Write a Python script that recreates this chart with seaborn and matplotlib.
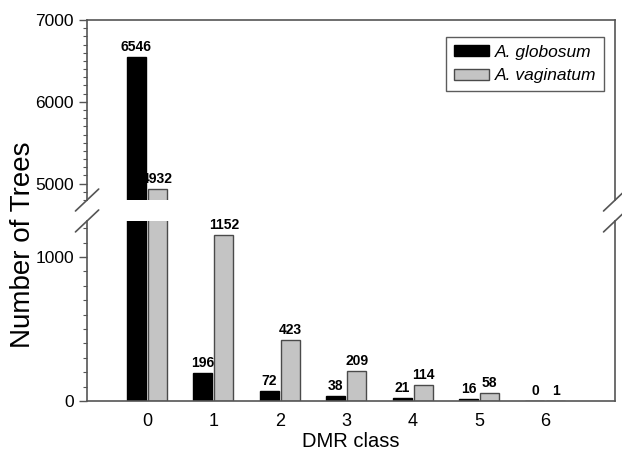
import numpy as np
import pandas as pd
import seaborn as sns
import matplotlib.pyplot as plt
from matplotlib.ticker import MultipleLocator

# data
dmr_class = ["0", "1", "2", "3", "4", "5", "6"]
globosum = [6546, 196, 72, 38, 21, 16, 0]
vaginatum = [4932, 1152, 423, 209, 114, 58, 1]
species = ["A. globosum", "A. vaginatum"]

df = pd.DataFrame({
    "DMR class": dmr_class * 2,
    "Trees": globosum + vaginatum,
    "Species": [species[0]] * len(dmr_class) + [species[1]] * len(dmr_class),
})

palette = {species[0]: "black", species[1]: "#c4c4c4"}
edges = ["black", "#4a4a4a"]
axis_col = "#555555"

sns.set_style("white", rc={"text.color": "black", "xtick.color": "black",
                           "ytick.color": "black", "axes.labelcolor": "black"})
plt.rcParams["font.family"] = ["Liberation Sans", "DejaVu Sans"]

fig = plt.figure(figsize=(6.22, 4.51), dpi=100)
ax_top = fig.add_axes([0.14, 0.5565, 0.849, 0.3992])
ax_bot = fig.add_axes([0.14, 0.1109, 0.849, 0.3992])

top_lim = (4800, 7000)
bot_lim = (0, 1250)

for ax, lim in [(ax_top, top_lim), (ax_bot, bot_lim)]:
    sns.barplot(data=df, x="DMR class", y="Trees", hue="Species",
                palette=palette, width=0.63, gap=0.09, saturation=1,
                legend=(ax is ax_top), ax=ax)
    for cont, ec in zip(ax.containers, edges):
        for p in cont:
            p.set_edgecolor(ec)
            p.set_linewidth(1.0)
        labels = [str(int(v)) if lim[0] <= v <= lim[1] else ""
                  for v in cont.datavalues]
        ax.bar_label(cont, labels=labels, padding=2, fontsize=10,
                     fontweight="bold")
    ax.set_ylim(*lim)
    ax.set_xlim(-0.9, 7.05)
    ax.set_xlabel("")
    ax.set_ylabel("")
    ax.yaxis.set_minor_locator(MultipleLocator(100))
    ax.tick_params(axis="y", which="major", direction="out", length=6,
                   width=1, color=axis_col, labelsize=12.5, left=True)
    ax.tick_params(axis="y", which="minor", direction="out", length=3,
                   width=0.8, color=axis_col, left=True)
    for s in ax.spines.values():
        s.set_color(axis_col)
        s.set_linewidth(1.2)

ax_top.set_yticks([5000, 6000, 7000])
ax_bot.set_yticks([0, 1000])
ax_top.spines["bottom"].set_visible(False)
ax_bot.spines["top"].set_visible(False)
ax_top.tick_params(axis="x", bottom=False, labelbottom=False)
ax_bot.tick_params(axis="x", length=0, labelsize=13, pad=9)
ax_bot.set_xlabel("DMR class", fontsize=14.5, labelpad=1)

# break marks on both sides
dx, dy = 0.022, 0.061
kw = dict(color=axis_col, lw=1.2, clip_on=False)
for x0 in (0.0, 1.0):
    ax_top.plot([x0 - dx, x0 + dx], [-dy, dy],
                transform=ax_top.transAxes, **kw)
    ax_bot.plot([x0 - dx, x0 + dx], [1 - dy, 1 + dy],
                transform=ax_bot.transAxes, **kw)

handles, labels = ax_top.get_legend_handles_labels()
for h, ec in zip(handles, edges):
    h.set_edgecolor(ec)
leg = ax_top.legend(handles, labels, loc="upper right",
                    bbox_to_anchor=(0.979, 0.906), borderaxespad=0,
                    frameon=True, fancybox=False,
                    prop={"style": "italic", "size": 12.5},
                    handlelength=2.0, handleheight=0.6, handletextpad=0.35,
                    borderpad=0.45)
leg.get_frame().set_edgecolor("#333333")
leg.get_frame().set_linewidth(1.0)

fig.text(0.037, 0.457, "Number of Trees", rotation=90, ha="center",
         va="center", fontsize=20)

fig.savefig("out.png", dpi=100)
